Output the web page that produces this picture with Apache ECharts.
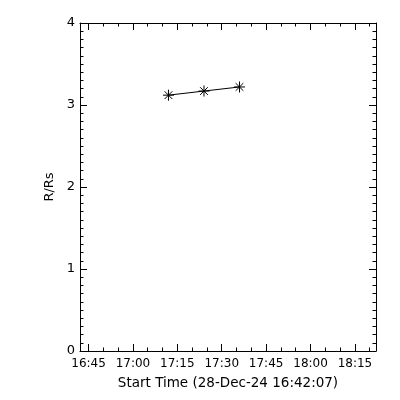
<!DOCTYPE html>
<html><head><meta charset="utf-8">
<script src="https://cdn.jsdelivr.net/npm/echarts@6/dist/echarts.min.js"></script>
<style>html,body{margin:0;padding:0;background:#fff}#c{width:400px;height:400px}</style>
</head><body><div id="c"></div>
<script>
const times = ['17:12:00', '17:24:00', '17:36:00'];
const radii = [3.12, 3.17, 3.22];
const majorTickLabels = ['16:45', '17:00', '17:15', '17:30', '17:45', '18:00', '18:15'];
const startTime = '16:42:07';
const spanMinutes = 100;
const xTitle = 'Start Time (28-Dec-24 16:42:07)';
const yTitle = 'R/Rs';

function toMin(s){const p=s.split(':').map(Number);return p[0]*60+p[1]+(p[2]||0)/60;}
function fmt(v){const h=Math.floor(v/60), m=Math.round(v-h*60);return (h<10?'0':'')+h+':'+(m<10?'0':'')+m;}
const xMin = toMin(startTime), xMax = xMin + spanMinutes;
const majors = majorTickLabels.map(toMin);
const minors = [];
for (let t = Math.ceil(xMin/5)*5; t <= xMax; t += 5) minors.push(t);
const font = 'DejaVu Sans';
const blk = '#000';
function xa(pos, vals, len, labels, line, name){
  return {type:'value', position:pos, min:xMin, max:xMax, gridIndex:0,
    axisLine:{show:line, onZero:false, lineStyle:{color:blk,width:1}},
    axisTick:{show:true, inside:true, length:len, customValues:vals, lineStyle:{color:blk,width:1}},
    axisLabel:{show:labels, customValues:vals, formatter:fmt, color:blk, fontFamily:font, fontSize:12, margin:7},
    splitLine:{show:false},
    name: name||'', nameLocation:'middle', nameGap:25, nameTextStyle:{color:blk,fontFamily:font,fontSize:13.5}};
}
function ya(pos, interval, len, labels, line, name){
  return {type:'value', position:pos, min:0, max:4, interval:interval,
    axisLine:{show:line, onZero:false, lineStyle:{color:blk,width:1}},
    axisTick:{show:true, inside:true, length:len, lineStyle:{color:blk,width:1}},
    axisLabel:{show:labels, color:blk, fontFamily:font, fontSize:13, margin:5},
    splitLine:{show:false},
    name:name||'', nameLocation:'middle', nameGap:22, nameTextStyle:{color:blk,fontFamily:font,fontSize:13}};
}
const chart = echarts.init(document.getElementById('c'), null, {renderer:'canvas'});
chart.setOption({
  animation:false,
  backgroundColor:'#fff',
  grid:{left:80, right:24, top:23, bottom:49},
  xAxis:[
    xa('bottom', majors, 7, true, true, xTitle),
    xa('bottom', minors, 3.5, false, false),
    xa('top', majors, 7, false, true),
    xa('top', minors, 3.5, false, false)
  ],
  yAxis:[
    ya('left', 1, 7, true, true, yTitle),
    ya('left', 0.1, 3.5, false, false),
    ya('right', 1, 7, false, true),
    ya('right', 0.1, 3.5, false, false)
  ],
  series:[{
    type:'line', xAxisIndex:0, yAxisIndex:0,
    data: times.map((t,i)=>[toMin(t), radii[i]]),
    lineStyle:{color:blk, width:1},
    symbol:'path://M0,-10 L0,10 M-10,0 L10,0 M-7,-7 L7,7 M-7,7 L7,-7',
    symbolSize:11,
    itemStyle:{color:'none', borderColor:blk, borderWidth:1},
    showSymbol:true
  }]
});
</script></body></html>
